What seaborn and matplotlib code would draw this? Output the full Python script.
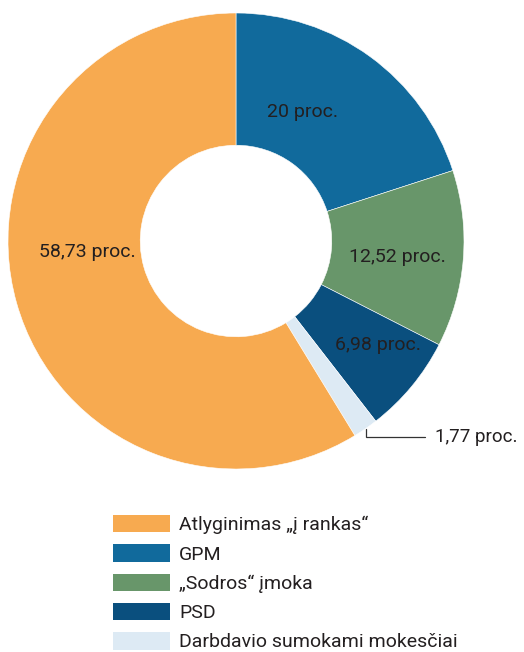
import matplotlib
matplotlib.use("Agg")
import matplotlib.pyplot as plt
import matplotlib.patches as mpatches
import numpy as np
import seaborn as sns

# data (legend order)
labels = ['Atlyginimas „į rankas“', 'GPM', '„Sodros“ įmoka', 'PSD',
          'Darbdavio sumokami mokesčiai']
values = [58.73, 20, 12.52, 6.98, 1.77]
value_text = ['58,73 proc.', '20 proc.', '12,52 proc.', '6,98 proc.', '1,77 proc.']

sns.set_theme(style='white')
plt.rcParams['font.family'] = ['Roboto', 'DejaVu Sans']

colors = sns.color_palette(['#F7AA50', '#116A9C', '#68966A', '#0A4F7E', '#DDEAF4'])

# pie goes clockwise from the top: GPM, Sodros, PSD, Darbdavio, then Atlyginimas
pie_order = [1, 2, 3, 4, 0]

fig = plt.figure(figsize=(5.24, 6.52), dpi=100)
ax = fig.add_axes([8 / 524, 1 - 469 / 652, 456 / 524, 456 / 652])

wedges, _ = ax.pie([values[i] for i in pie_order], colors=[colors[i] for i in pie_order],
                   startangle=90, counterclock=False, radius=1,
                   wedgeprops=dict(width=0.58, edgecolor='white', linewidth=0.4))
ax.set_xlim(-1, 1)
ax.set_ylim(-1, 1)
ax.set_aspect('equal')
ax.axis('off')

txt_color = '#231f20'
# label positions (data coords, radius 1), same order as legend
label_pos = [(-0.652, -0.05), (0.29, 0.566), (0.71, -0.07), (0.623, -0.456)]
for (x, y), t in zip(label_pos, value_text[:4]):
    ax.text(x, y, t, ha='center', va='center', fontsize=14, color=txt_color)

# leader line for the small slice
w = wedges[pie_order.index(4)]
mid = np.deg2rad((w.theta1 + w.theta2) / 2)
x0, y0 = np.cos(mid), np.sin(mid)
ax.plot([x0, x0, 0.83], [y0, -0.86, -0.86], color='#333333', lw=0.9,
        clip_on=False, solid_joinstyle='miter')
ax.text(0.875, -0.86, value_text[4], ha='left', va='center', fontsize=13.5,
        color=txt_color, clip_on=False)

handles = [mpatches.Patch(facecolor=c, edgecolor='none') for c in colors]
fig.legend(handles, labels, loc='upper left', bbox_to_anchor=(113 / 524, 1 - 515 / 652),
           frameon=False, fontsize=14, handlelength=2.95, handleheight=1.0,
           handletextpad=0.45, labelspacing=0.51, borderpad=0, borderaxespad=0,
           labelcolor=txt_color)

fig.savefig('out.png', dpi=100)
